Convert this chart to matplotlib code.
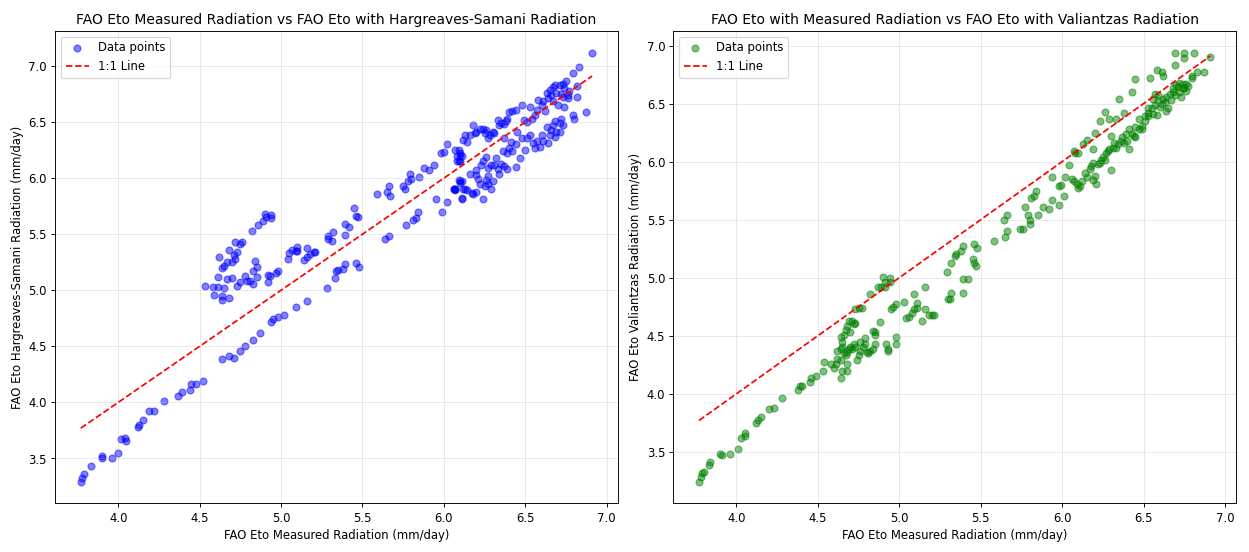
import matplotlib
matplotlib.use('Agg')
import matplotlib.pyplot as plt

# FAO Eto measured radiation vs Hargreaves-Samani
hs_x = [3.77, 3.78, 3.79, 3.83, 3.90, 3.90, 3.96, 4.00, 4.02, 4.04,
        4.05, 4.12, 4.13, 4.15, 4.19, 4.22, 4.28, 4.37, 4.39, 4.44,
        4.45, 4.48, 4.52, 4.64, 4.68, 4.71, 4.75, 4.78, 4.83, 4.87,
        4.94, 4.95, 4.98, 5.02, 5.09,
        4.53, 4.58, 4.59, 4.61, 4.61, 4.62, 4.64, 4.64, 4.65, 4.64,
        4.65, 4.67, 4.68, 4.67, 4.68, 4.70, 4.70, 4.71, 4.72, 4.72,
        4.73, 4.73, 4.75, 4.75, 4.76, 4.78, 4.79, 4.81, 4.83, 4.83,
        4.84, 4.85, 4.85, 4.92, 4.92, 4.93, 4.97, 4.98, 5.04, 5.05,
        5.07, 5.10,
        4.82, 4.86, 4.89, 4.90, 4.91, 4.94, 4.94, 5.09, 5.10, 5.14,
        5.16, 5.16, 5.18, 5.20, 5.21, 5.16, 5.28, 5.33, 5.34, 5.35,
        5.38, 5.39, 5.46, 5.48, 5.29, 5.29, 5.31, 5.32, 5.39, 5.39,
        5.42, 5.45, 5.46, 5.47, 5.64, 5.66, 5.59, 5.65, 5.66, 5.67,
        5.75, 5.76, 5.78, 5.79, 5.80, 5.85, 5.88, 5.91, 5.94, 5.77,
        5.81, 5.83, 5.84, 5.95, 5.99, 6.02, 5.98, 6.00, 6.06, 6.07,
        6.10, 6.11, 6.12, 6.08, 6.10,
        6.02, 6.07, 6.08, 6.09, 6.10, 6.11, 6.10, 6.09, 6.12, 6.13,
        6.14, 6.16, 6.18, 6.19, 6.20, 6.22, 6.24, 6.25, 6.26, 6.27,
        6.28, 6.30, 6.31, 6.33, 6.34, 6.35, 6.37, 6.38, 6.39, 6.40,
        6.42, 6.44, 6.45, 6.48, 6.49, 6.53, 6.51, 6.54, 6.56, 6.57,
        6.58, 6.60, 6.61, 6.62, 6.63, 6.64, 6.65, 6.66, 6.67, 6.67,
        6.68, 6.69, 6.70, 6.71, 6.72, 6.73, 6.73, 6.74, 6.75, 6.76,
        6.76, 6.77, 6.74, 6.79, 6.83, 6.82, 6.82, 6.79, 6.80, 6.87,
        6.91,
        6.06, 6.07, 6.09, 6.10, 6.11, 6.11, 6.13, 6.14, 6.16, 6.17,
        6.18, 6.20, 6.20, 6.20, 6.21, 6.22, 6.23, 6.24, 6.25, 6.26,
        6.27, 6.27, 6.29, 6.30, 6.26, 6.27, 6.29, 6.31, 6.33, 6.34,
        6.32, 6.35, 6.36, 6.37, 6.37, 6.39, 6.39, 6.40, 6.41, 6.42,
        6.44, 6.44, 6.47, 6.48, 6.50, 6.51, 6.53, 6.55, 6.56, 6.57,
        6.59, 6.60, 6.61, 6.63, 6.64, 6.65, 6.66, 6.67, 6.68, 6.68,
        6.69, 6.71, 6.71, 6.72, 6.73, 6.24]
hs_y = [3.29, 3.33, 3.36, 3.43, 3.52, 3.50, 3.50, 3.55, 3.67, 3.68,
        3.66, 3.78, 3.80, 3.84, 3.92, 3.92, 4.01, 4.06, 4.09, 4.11,
        4.16, 4.16, 4.19, 4.39, 4.41, 4.40, 4.46, 4.50, 4.56, 4.62,
        4.72, 4.74, 4.76, 4.78, 4.85,
        5.04, 5.03, 4.96, 5.03, 5.12, 5.30, 4.91, 4.95, 5.02, 5.20,
        5.22, 5.10, 4.93, 5.25, 5.36, 5.11, 5.25, 5.31, 5.28, 5.43,
        5.34, 5.04, 5.07, 5.41, 5.43, 5.13, 5.08, 5.08, 5.17, 5.06,
        5.26, 5.21, 5.12, 5.14, 5.07, 5.13, 5.15, 5.17, 5.28, 5.33,
        5.36, 5.35,
        5.53, 5.58, 5.62, 5.68, 5.65, 5.67, 5.64, 5.35, 5.39, 5.27,
        5.38, 5.30, 5.32, 5.34, 5.34, 4.90, 5.02, 5.11, 5.17, 5.18,
        5.19, 5.23, 5.24, 5.21, 5.48, 5.46, 5.44, 5.52, 5.49, 5.59,
        5.56, 5.73, 5.66, 5.65, 5.46, 5.48, 5.86, 5.88, 5.93, 5.84,
        5.93, 5.90, 5.97, 6.04, 5.99, 6.01, 6.09, 6.07, 6.12, 5.58,
        5.63, 5.64, 5.70, 5.81, 5.70, 5.79, 6.22, 6.23, 5.90, 5.90,
        5.96, 5.82, 5.90, 6.15, 6.22,
        6.30, 6.25, 6.20, 6.25, 6.21, 6.20, 6.15, 6.15, 6.34, 6.38,
        6.32, 6.38, 6.47, 6.40, 6.41, 6.44, 6.44, 6.40, 6.43, 6.36,
        6.38, 6.41, 6.40, 6.52, 6.47, 6.49, 6.48, 6.51, 6.53, 6.59,
        6.60, 6.61, 6.41, 6.65, 6.52, 6.63, 6.50, 6.53, 6.56, 6.61,
        6.70, 6.65, 6.69, 6.60, 6.76, 6.71, 6.79, 6.74, 6.81, 6.69,
        6.83, 6.76, 6.65, 6.83, 6.75, 6.72, 6.84, 6.80, 6.87, 6.71,
        6.74, 6.78, 6.63, 6.94, 6.99, 6.82, 6.72, 6.56, 6.53, 6.59,
        7.12,
        5.90, 5.89, 5.98, 5.97, 5.97, 5.81, 5.90, 5.89, 6.04, 5.87,
        5.86, 5.88, 6.07, 6.03, 5.99, 5.95, 6.12, 5.81, 5.93, 5.98,
        6.02, 5.95, 5.90, 5.97, 6.19, 6.09, 6.12, 6.12, 6.08, 6.04,
        6.18, 6.13, 6.24, 6.11, 6.36, 6.22, 6.08, 6.27, 6.32, 6.24,
        6.30, 6.10, 6.18, 6.36, 6.25, 6.36, 6.38, 6.31, 6.27, 6.33,
        6.28, 6.38, 6.33, 6.46, 6.31, 6.38, 6.43, 6.47, 6.37, 6.51,
        6.41, 6.49, 6.41, 6.53, 6.47, 6.15]

# FAO Eto measured radiation vs Valiantzas
val_x = [3.77, 3.78, 3.79, 3.80, 3.83, 3.84, 3.90, 3.91, 3.96, 4.01,
         4.03, 4.05, 4.05, 4.12, 4.13, 4.15, 4.20, 4.23, 4.28, 4.38,
         4.39, 4.40, 4.45, 4.46, 4.49, 4.53, 4.54, 4.60, 4.61, 4.58,
         4.64, 4.65, 4.68, 4.62, 4.64, 4.62, 4.64, 4.65, 4.66, 4.67,
         4.68, 4.68, 4.69, 4.70, 4.64, 4.65, 4.66, 4.67, 4.68, 4.69,
         4.71, 4.72, 4.73, 4.70, 4.74, 4.75, 4.76, 4.73, 4.76, 4.72,
         4.71, 4.78, 4.79, 4.80, 4.81, 4.79, 4.82, 4.84, 4.85, 4.85,
         4.85, 4.84, 4.88, 4.92, 4.93, 4.93, 4.98, 4.98, 4.73, 4.75,
         4.77, 4.82, 4.87, 4.89, 4.90, 4.94, 4.91, 4.94, 4.91, 4.95,
         4.96, 4.98, 5.03, 5.04, 5.06, 5.08, 5.09, 5.09,
         5.11, 5.11, 5.16, 5.16, 5.14, 5.18, 5.20, 5.21, 5.29, 5.30,
         5.31, 5.32, 5.32, 5.34, 5.35, 5.38, 5.39, 5.39, 5.42, 5.39,
         5.45, 5.46, 5.47, 5.46, 5.48, 5.58, 5.64, 5.66, 5.65, 5.66,
         5.74, 5.76, 5.77, 5.79, 5.80, 5.80, 5.81, 5.83, 5.84, 5.85,
         5.88, 5.92, 5.94, 5.94, 5.98, 5.99, 5.98, 6.01, 6.02, 6.04,
         6.06,
         6.07, 6.08, 6.10, 6.13, 6.15, 6.19, 6.20, 6.23, 6.26, 6.29,
         6.30, 6.33, 6.35, 6.38, 6.43, 6.45, 6.54, 6.58, 6.61, 6.62,
         6.69, 6.69, 6.75, 6.75, 6.81, 6.91, 6.83, 6.87, 6.80, 6.80,
         6.07, 6.09, 6.10, 6.11, 6.12, 6.14, 6.15, 6.17, 6.18, 6.19,
         6.20, 6.21, 6.19, 6.22, 6.23, 6.24, 6.25, 6.26, 6.27, 6.28,
         6.29, 6.30, 6.31, 6.32, 6.33, 6.34, 6.36, 6.37, 6.38, 6.39,
         6.40, 6.41, 6.41, 6.43, 6.44, 6.45, 6.45, 6.47, 6.47, 6.49,
         6.49, 6.51, 6.51, 6.53, 6.53, 6.55, 6.56, 6.57, 6.58, 6.59,
         6.60, 6.61, 6.62, 6.63, 6.64, 6.64, 6.65, 6.66, 6.67, 6.68,
         6.68, 6.69, 6.70, 6.71, 6.72, 6.72, 6.73, 6.74, 6.74, 6.75,
         6.76, 6.76, 6.77, 6.57, 6.56, 6.59, 6.53]
val_y = [3.24, 3.28, 3.32, 3.33, 3.39, 3.41, 3.48, 3.47, 3.48, 3.52,
         3.62, 3.64, 3.66, 3.75, 3.77, 3.80, 3.87, 3.88, 3.96, 4.03,
         4.07, 4.07, 4.10, 4.14, 4.15, 4.20, 4.27, 4.22, 4.26, 4.26,
         4.14, 4.20, 4.20, 4.30, 4.29, 4.37, 4.39, 4.40, 4.35, 4.33,
         4.26, 4.36, 4.39, 4.40, 4.49, 4.45, 4.51, 4.55, 4.58, 4.63,
         4.63, 4.60, 4.61, 4.53, 4.29, 4.33, 4.37, 4.40, 4.45, 4.43,
         4.39, 4.40, 4.43, 4.36, 4.35, 4.48, 4.37, 4.39, 4.43, 4.53,
         4.51, 4.54, 4.62, 4.43, 4.39, 4.37, 4.49, 4.43, 4.73, 4.74,
         4.74, 4.86, 4.92, 4.92, 5.01, 5.00, 4.96, 4.96, 4.92, 4.73,
         4.75, 4.77, 4.79, 4.65, 4.66, 4.70, 4.73, 4.86,
         4.78, 4.74, 4.92, 4.73, 4.63, 4.68, 4.68, 4.68, 5.05, 4.82,
         4.82, 4.87, 5.13, 5.19, 5.20, 5.23, 5.27, 4.99, 4.99, 4.87,
         5.16, 5.13, 5.10, 5.29, 5.26, 5.32, 5.50, 5.54, 5.35, 5.40,
         5.42, 5.42, 5.61, 5.54, 5.50, 5.46, 5.69, 5.70, 5.75, 5.54,
         5.61, 5.59, 5.87, 5.67, 5.79, 5.80, 5.63, 5.70, 5.87, 5.97,
         5.85,
         6.09, 6.07, 6.07, 6.15, 6.19, 6.11, 6.25, 6.35, 6.43, 6.37,
         6.22, 6.37, 6.54, 6.42, 6.60, 6.71, 6.72, 6.79, 6.77, 6.74,
         6.83, 6.94, 6.94, 6.89, 6.94, 6.90, 6.77, 6.77, 6.74, 6.72,
         5.83, 5.81, 5.77, 5.79, 5.83, 5.90, 5.87, 5.94, 5.96, 5.84,
         5.88, 5.81, 5.99, 5.98, 5.99, 6.01, 6.04, 6.01, 6.07, 6.09,
         6.11, 5.93, 6.12, 6.16, 6.12, 6.15, 6.18, 6.21, 6.16, 6.24,
         6.18, 6.11, 6.28, 6.24, 6.22, 6.30, 6.21, 6.28, 6.37, 6.31,
         6.28, 6.39, 6.35, 6.42, 6.39, 6.46, 6.41, 6.49, 6.40, 6.52,
         6.47, 6.50, 6.54, 6.51, 6.56, 6.44, 6.46, 6.58, 6.53, 6.60,
         6.63, 6.57, 6.66, 6.64, 6.60, 6.68, 6.56, 6.63, 6.67, 6.63,
         6.67, 6.61, 6.65, 6.58, 6.54, 6.57, 6.46]

fig, (ax1, ax2) = plt.subplots(1, 2, figsize=(15, 6.63))

ax1.scatter(hs_x, hs_y, color='blue', alpha=0.5, label='Data points')
lo, hi = min(hs_x), max(hs_x)
ax1.plot([lo, hi], [lo, hi], 'r--', label='1:1 Line')
ax1.set_xlabel('FAO Eto Measured Radiation (mm/day)')
ax1.set_ylabel('FAO Eto Hargreaves-Samani Radiation (mm/day)')
ax1.set_title('FAO Eto Measured Radiation vs FAO Eto with Hargreaves-Samani Radiation')
ax1.legend(loc='upper left')
ax1.grid(True, alpha=0.3)

ax2.scatter(val_x, val_y, color='green', alpha=0.5, label='Data points')
lo, hi = min(val_x), max(val_x)
ax2.plot([lo, hi], [lo, hi], 'r--', label='1:1 Line')
ax2.set_xlabel('FAO Eto Measured Radiation (mm/day)')
ax2.set_ylabel('FAO Eto Valiantzas Radiation (mm/day)')
ax2.set_title('FAO Eto with Measured Radiation vs FAO Eto with Valiantzas Radiation')
ax2.legend(loc='upper left')
ax2.grid(True, alpha=0.3)

plt.tight_layout()
plt.savefig('out.png', dpi=1249 / 15)
